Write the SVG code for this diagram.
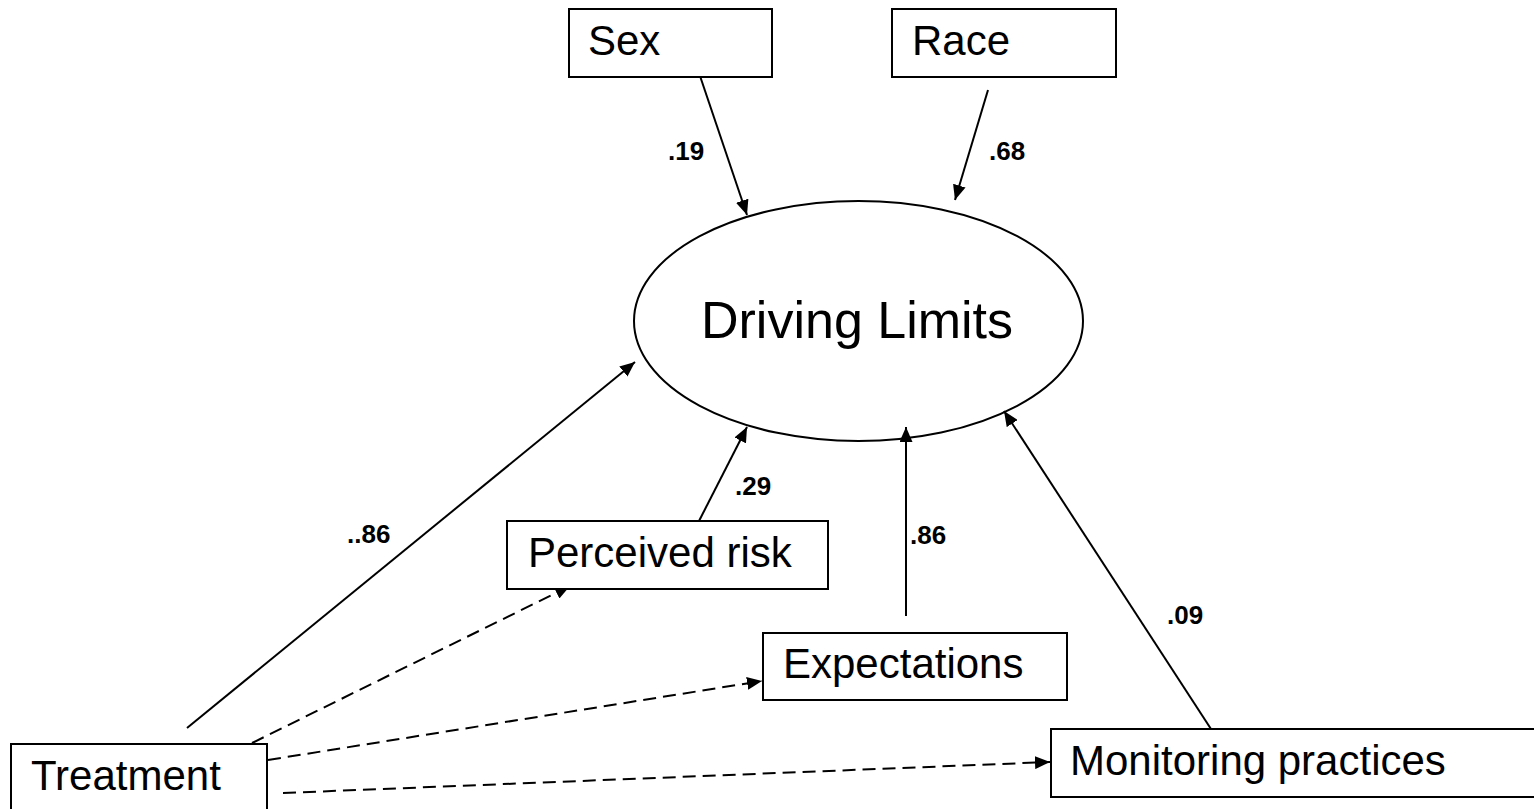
<svg xmlns="http://www.w3.org/2000/svg" width="1534" height="809" viewBox="0 0 1534 809">
<style>
.box{fill:#fff;stroke:#000;stroke-width:2}
.lbl{font-family:"Liberation Sans",Arial,sans-serif;font-size:42px;fill:#000}
.coef{font-family:"Liberation Sans",Arial,sans-serif;font-size:26px;font-weight:bold;fill:#000}
.edge{stroke:#000;stroke-width:2;fill:none;marker-end:url(#ah)}
.dash{stroke-dasharray:13 7}
</style>
<defs>
<marker id="ah" markerUnits="userSpaceOnUse" markerWidth="15" markerHeight="13" refX="15" refY="6.5" orient="auto">
<path d="M0,0 L15,6.5 L0,13 z" fill="#000"/>
</marker>
</defs>
<rect width="1534" height="809" fill="#fff"/>
<g id="connectors">
<line class="edge" x1="699" y1="73" x2="747" y2="215"/>
<line class="edge" x1="988" y1="90" x2="955" y2="200"/>
<line class="edge" x1="187" y1="728" x2="635" y2="362"/>
<line class="edge" x1="699" y1="521" x2="747" y2="427"/>
<line class="edge" x1="906" y1="616" x2="906" y2="427"/>
<line class="edge" x1="1211" y1="729" x2="1004" y2="411"/>
<line class="edge dash" x1="252" y1="743" x2="570" y2="586"/>
<line class="edge dash" x1="268" y1="760" x2="762" y2="681"/>
<line class="edge dash" x1="283" y1="793" x2="1050" y2="762"/>
<text class="coef" x="668" y="160">.19</text>
<text class="coef" x="989" y="160">.68</text>
<text class="coef" x="735" y="495">.29</text>
<text class="coef" x="910" y="544">.86</text>
<text class="coef" x="347" y="543">..86</text>
<text class="coef" x="1167" y="624">.09</text>
</g>
<g id="driving-limits">
<ellipse cx="858.5" cy="321" rx="224.5" ry="120" fill="none" stroke="#000" stroke-width="2"/>
<text class="lbl" x="701" y="338" style="font-size:52px">Driving Limits</text>
</g>
<g id="sex">
<rect class="box" x="569" y="9" width="203" height="68"/>
<text class="lbl" x="588" y="55">Sex</text>
</g>
<g id="race">
<rect class="box" x="892" y="9" width="224" height="68"/>
<text class="lbl" x="912" y="55">Race</text>
</g>
<g id="perceived-risk">
<rect class="box" x="507" y="521" width="321" height="68"/>
<text class="lbl" x="528" y="567">Perceived risk</text>
</g>
<g id="expectations">
<rect class="box" x="763" y="633" width="304" height="67"/>
<text class="lbl" x="783" y="678">Expectations</text>
</g>
<g id="monitoring-practices">
<rect class="box" x="1051" y="729" width="500" height="68"/>
<text class="lbl" x="1070" y="775">Monitoring practices</text>
</g>
<g id="treatment">
<rect class="box" x="11" y="744" width="256" height="80"/>
<text class="lbl" x="31" y="790">Treatment</text>
</g>
</svg>
